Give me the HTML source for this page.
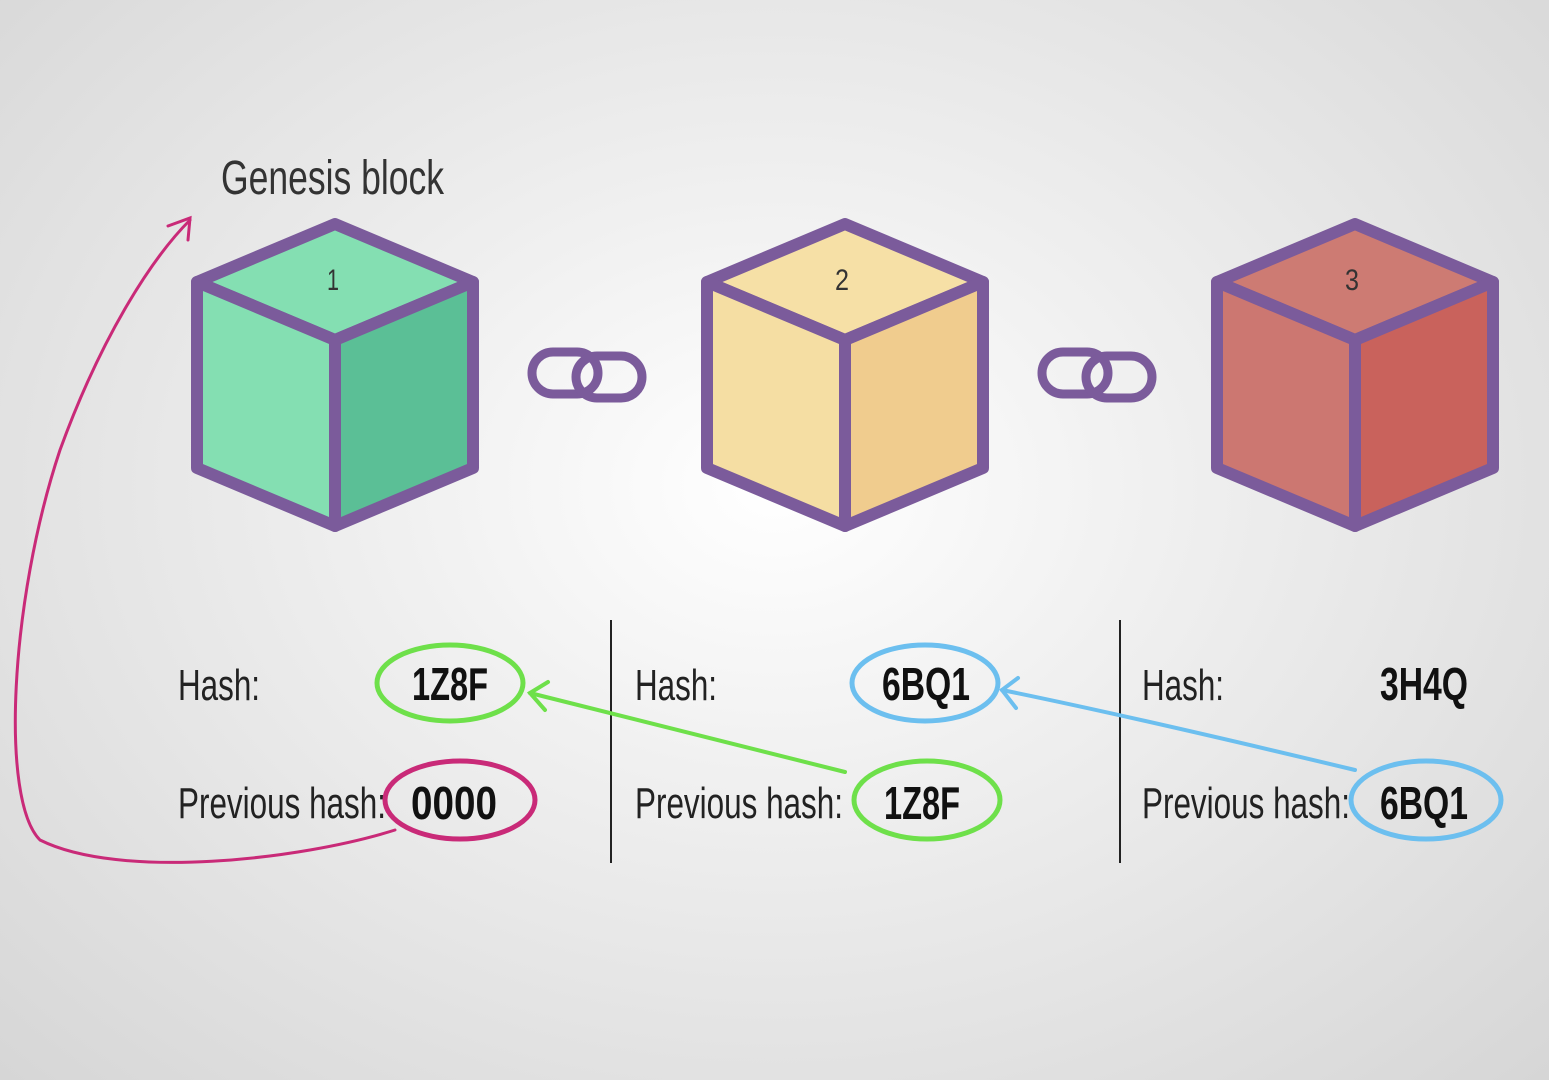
<!DOCTYPE html>
<html><head><meta charset="utf-8"><style>
html,body{margin:0;padding:0;width:1549px;height:1080px;overflow:hidden}
body{background:radial-gradient(ellipse at 50% 45%,#ffffff 0%,#f0f0f0 35%,#d6d6d6 100%)}
svg{position:absolute;left:0;top:0}
text{font-family:"Liberation Sans",sans-serif}
</style></head><body>
<svg width="1549" height="1080" viewBox="0 0 1549 1080">
<defs>
<g id="cubeshape">
</g>
</defs>
<!-- cube 1 -->
<g stroke="#7b5b9b" stroke-width="12" stroke-linejoin="round">
 <polygon points="335,224 473,282 335,340 197,282" fill="#84dfb2"/>
 <polygon points="197,282 335,340 335,526 197,468" fill="#84dfb2"/>
 <polygon points="335,340 473,282 473,468 335,526" fill="#5bbf96"/>
</g>
<g stroke="#7b5b9b" stroke-width="12" stroke-linejoin="round">
 <polygon points="845,224 983,282 845,340 707,282" fill="#f6e0a6"/>
 <polygon points="707,282 845,340 845,526 707,468" fill="#f5dea3"/>
 <polygon points="845,340 983,282 983,468 845,526" fill="#f0cc8e"/>
</g>
<g stroke="#7b5b9b" stroke-width="12" stroke-linejoin="round">
 <polygon points="1355,224 1493,282 1355,340 1217,282" fill="#cd7b73"/>
 <polygon points="1217,282 1355,340 1355,526 1217,468" fill="#cc7771"/>
 <polygon points="1355,340 1493,282 1493,468 1355,526" fill="#c9625c"/>
</g>
<g font-size="30" fill="#333" text-anchor="middle">
 <text x="333" y="290" textLength="12" lengthAdjust="spacingAndGlyphs">1</text>
 <text x="842" y="290" textLength="14" lengthAdjust="spacingAndGlyphs">2</text>
 <text x="1352" y="290" textLength="14" lengthAdjust="spacingAndGlyphs">3</text>
</g>
<!-- chains -->
<g fill="none" stroke="#7b5b9b" stroke-width="9">
 <rect x="532" y="352" width="66" height="42" rx="21"/>
 <rect x="576" y="356" width="66" height="42" rx="21"/>
 <rect x="1042" y="352" width="66" height="42" rx="21"/>
 <rect x="1086" y="356" width="66" height="42" rx="21"/>
</g>
<!-- text -->
<text x="221" y="194" font-size="48" fill="#333" textLength="223" lengthAdjust="spacingAndGlyphs">Genesis block</text>
<g font-size="44" fill="#222">
 <text x="178" y="700" textLength="82" lengthAdjust="spacingAndGlyphs">Hash:</text>
 <text x="178" y="818" textLength="208" lengthAdjust="spacingAndGlyphs">Previous hash:</text>
 <text x="635" y="700" textLength="82" lengthAdjust="spacingAndGlyphs">Hash:</text>
 <text x="635" y="818" textLength="208" lengthAdjust="spacingAndGlyphs">Previous hash:</text>
 <text x="1142" y="700" textLength="82" lengthAdjust="spacingAndGlyphs">Hash:</text>
 <text x="1142" y="818" textLength="208" lengthAdjust="spacingAndGlyphs">Previous hash:</text>
</g>
<g font-size="46" font-weight="bold" fill="#111">
 <text x="412" y="700" textLength="76" lengthAdjust="spacingAndGlyphs">1Z8F</text>
 <text x="411" y="819" textLength="86" lengthAdjust="spacingAndGlyphs">0000</text>
 <text x="882" y="700" textLength="88" lengthAdjust="spacingAndGlyphs">6BQ1</text>
 <text x="884" y="819" textLength="76" lengthAdjust="spacingAndGlyphs">1Z8F</text>
 <text x="1380" y="700" textLength="88" lengthAdjust="spacingAndGlyphs">3H4Q</text>
 <text x="1380" y="819" textLength="88" lengthAdjust="spacingAndGlyphs">6BQ1</text>
</g>
<!-- dividers -->
<g stroke="#222" stroke-width="2">
 <line x1="611" y1="620" x2="611" y2="863"/>
 <line x1="1120" y1="620" x2="1120" y2="863"/>
</g>
<!-- ellipses -->
<g fill="none" stroke-width="5">
 <ellipse cx="450" cy="683" rx="73" ry="38" stroke="#6ee04a"/>
 <ellipse cx="460" cy="800" rx="75" ry="39" stroke="#c92a78"/>
 <ellipse cx="925" cy="683" rx="73" ry="38" stroke="#6cbfef"/>
 <ellipse cx="927" cy="800" rx="73" ry="39" stroke="#6ee04a"/>
 <ellipse cx="1426" cy="800" rx="75" ry="39" stroke="#6cbfef"/>
</g>
<!-- arrows -->
<g fill="none" stroke-width="4" stroke-linecap="round">
 <path d="M845,772 C720,740 620,715 530,693" stroke="#6ee04a"/>
 <path d="M548,682 L530,693 L545,710" stroke="#6ee04a"/>
 <path d="M1355,770 C1230,740 1110,712 1002,690" stroke="#6cbfef"/>
 <path d="M1018,678 L1002,690 L1016,708" stroke="#6cbfef"/>
 <path d="M395,830 C300,860 120,880 40,840 C0,800 10,600 60,450 C100,340 150,260 190,220" stroke="#c92a78" stroke-width="3"/>
 <path d="M168,226 L190,218 L188,240" stroke="#c92a78" stroke-width="3"/>
</g>
</svg>
</body></html>
